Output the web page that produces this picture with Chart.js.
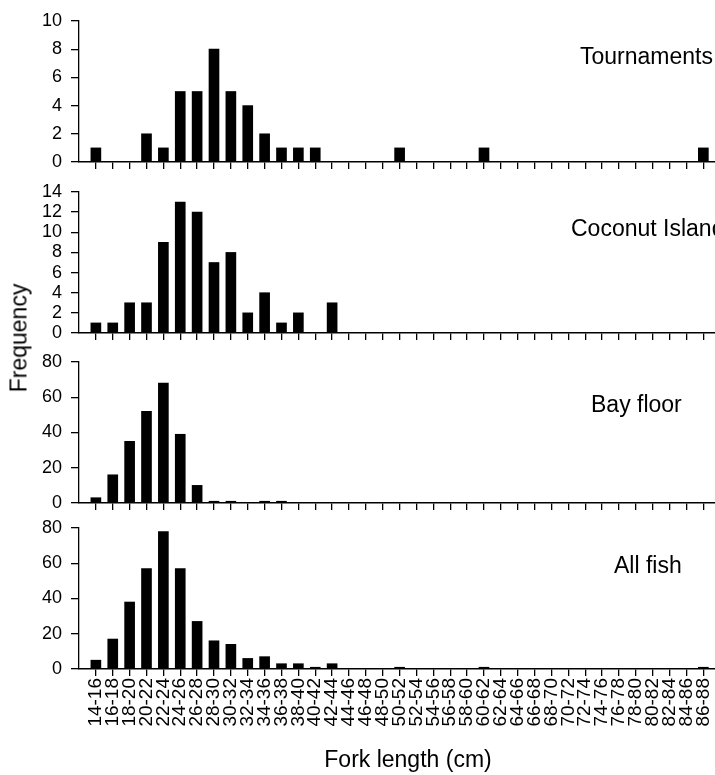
<!DOCTYPE html>
<html>
<head>
<meta charset="utf-8">
<script src="https://cdn.jsdelivr.net/npm/chart.js@4/dist/chart.umd.min.js"></script>
<style>
  html, body { margin: 0; padding: 0; background: #fff; }
  #wrap { position: relative; width: 715px; height: 775px; overflow: hidden; background: #fff; }
  canvas { position: absolute; left: 0; }
  #ytitle { position: absolute; left: 19px; top: 338px; font-family: 'Liberation Sans', Arial, sans-serif; font-size: 23px; color: #000;
            transform: translate(-50%, -50%) rotate(-90deg); white-space: nowrap; line-height: 1; }
</style>
</head>
<body>
<div id="wrap">
  <canvas id="c1" width="715" height="174" style="top:0px"></canvas>
  <canvas id="c2" width="715" height="174" style="top:171px"></canvas>
  <canvas id="c3" width="715" height="174" style="top:341px"></canvas>
  <canvas id="c4" width="715" height="268" style="top:507px"></canvas>
  <div id="ytitle">Frequency</div>
</div>
<script>
const categories = ["14-16","16-18","18-20","20-22","22-24","24-26","26-28","28-30","30-32","32-34",
  "34-36","36-38","38-40","40-42","42-44","44-46","46-48","48-50","50-52","52-54",
  "54-56","56-58","58-60","60-62","62-64","64-66","66-68","68-70","70-72","72-74",
  "74-76","76-78","78-80","80-82","82-84","84-86","86-88"];

const tournaments = [1,0,0,2,1,5,5,8,5,4, 2,1,1,1,0,0,0,0,1,0, 0,0,0,1,0,0,0,0,0,0, 0,0,0,0,0,0,1];
const coconutIsland = [1,1,3,3,9,13,12,7,8,2, 4,1,2,0,3,0,0,0,0,0, 0,0,0,0,0,0,0,0,0,0, 0,0,0,0,0,0,0];
const bayFloor = [3,16,35,52,68,39,10,1,1,0, 1,1,0,0,0,0,0,0,0,0, 0,0,0,0,0,0,0,0,0,0, 0,0,0,0,0,0,0];
const allFish = [5,17,38,57,78,57,27,16,14,6, 7,3,3,1,3,0,0,0,1,0, 0,0,0,1,0,0,0,0,0,0, 0,0,0,0,0,0,1];

const panelNames = ["Tournaments","Coconut Island","Bay floor","All fish"];
const yMax = [10, 14, 80, 80];
const yStep = [2, 2, 20, 20];
const xTitle = "Fork length (cm)";

const FONT = "'Liberation Sans', Arial, Helvetica, sans-serif";
const titlePos = [[580, 58], [571, 59], [591, 65], [614, 60]];

function textPlugin(items) {
  return {
    id: 'panelText',
    afterDraw(chart) {
      const ctx = chart.ctx;
      ctx.save();
      ctx.fillStyle = '#000';
      ctx.textBaseline = 'middle';
      items.forEach(it => {
        ctx.font = "23px " + FONT;
        ctx.textAlign = it.align;
        ctx.fillText(it.text, it.x, it.y);
      });
      ctx.restore();
    }
  };
}

function makePanel(id, values, idx, isBottom) {
  const ctx = document.getElementById(id).getContext('2d');
  const items = [{ text: panelNames[idx], x: titlePos[idx][0], y: titlePos[idx][1], align: 'left' }];
  if (isBottom) items.push({ text: xTitle, x: 408, y: 254, align: 'center' });
  return new Chart(ctx, {
    type: 'bar',
    data: {
      datasets: [{
        data: values.map((v, i) => ({ x: i, y: v })),
        backgroundColor: '#000',
        borderWidth: 0,
        barThickness: 10
      }]
    },
    options: {
      responsive: false,
      animation: false,
      layout: { padding: { top: 21, left: 0, right: 0, bottom: 0 } },
      plugins: { legend: { display: false }, tooltip: { enabled: false } },
      scales: {
        x: {
          type: 'linear',
          min: -1,
          max: 36.69,
          offset: false,
          afterBuildTicks: (s) => { s.ticks = categories.map((c, i) => ({ value: i })); },
          afterFit: (s) => { s.height = isBottom ? 106 : 12; s.paddingLeft = 0; s.paddingRight = 0; },
          ticks: {
            display: isBottom,
            autoSkip: false,
            maxRotation: 90,
            minRotation: 90,
            padding: 2,
            color: '#000',
            font: { family: FONT, size: 19 },
            callback: (v) => categories[v]
          },
          grid: { drawOnChartArea: false, drawTicks: true, tickLength: 7, color: '#000', lineWidth: 1.3, offset: false },
          border: { display: true, color: '#000', width: 1.6 }
        },
        y: {
          min: 0,
          max: yMax[idx],
          afterFit: (s) => { s.width = 79; s.paddingTop = 0; s.paddingBottom = 0; },
          ticks: {
            stepSize: yStep[idx],
            autoSkip: false,
            padding: 9,
            color: '#000',
            font: { family: FONT, size: 18 }
          },
          grid: { drawOnChartArea: false, drawTicks: true, tickLength: 8, color: '#000', lineWidth: 1.3 },
          border: { display: true, color: '#000', width: 1.3 }
        }
      }
    },
    plugins: [textPlugin(items)]
  });
}

makePanel('c1', tournaments, 0, false);
makePanel('c2', coconutIsland, 1, false);
makePanel('c3', bayFloor, 2, false);
makePanel('c4', allFish, 3, true);
</script>
</body>
</html>
